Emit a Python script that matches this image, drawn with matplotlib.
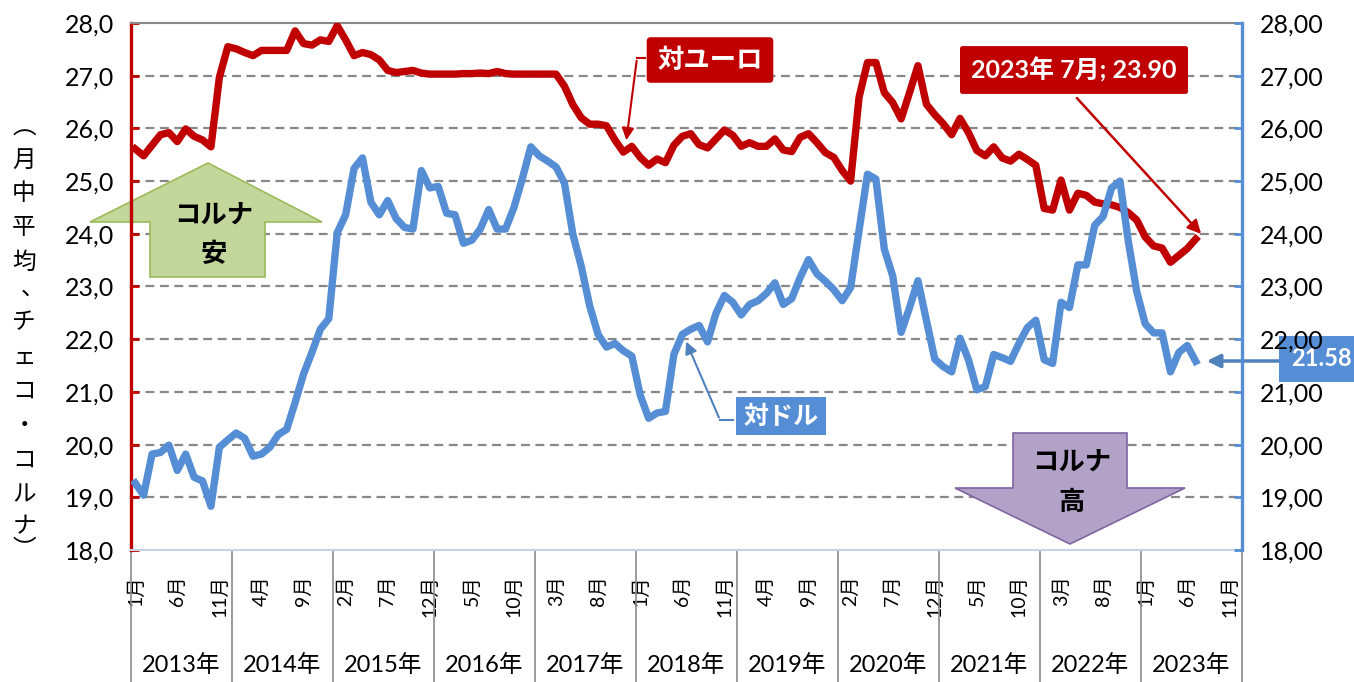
import matplotlib
matplotlib.use("Agg")
import matplotlib.pyplot as plt
from matplotlib.patches import Polygon
from matplotlib.transforms import blended_transform_factory

plt.rcParams['font.family'] = ['Lato', 'Noto Sans CJK JP']

# monthly averages, Jan 2013 .. Jul 2023
CZK_PER_EUR = [
    25.61, 25.48, 25.68, 25.88, 25.92, 25.75, 25.99, 25.85, 25.78, 25.65, 26.97, 27.55,
    27.51, 27.44, 27.38, 27.48, 27.48, 27.48, 27.48, 27.85, 27.61, 27.58, 27.68, 27.65,
    27.95, 27.68, 27.38, 27.44, 27.40, 27.30, 27.10, 27.06, 27.08, 27.10, 27.05, 27.03,
    27.03, 27.03, 27.03, 27.04, 27.04, 27.05, 27.04, 27.08, 27.04, 27.03, 27.03, 27.03,
    27.03, 27.03, 27.03, 26.80, 26.45, 26.20, 26.08, 26.08, 26.05, 25.78, 25.55, 25.66,
    25.45, 25.30, 25.42, 25.35, 25.68, 25.85, 25.90, 25.69, 25.63, 25.80, 25.97, 25.87,
    25.66, 25.73, 25.66, 25.66, 25.80, 25.59, 25.56, 25.83, 25.90, 25.73, 25.54, 25.45,
    25.20, 25.00, 26.59, 27.25, 27.25, 26.68, 26.49, 26.18, 26.68, 27.19, 26.46, 26.26,
    26.09, 25.88, 26.19, 25.92, 25.58, 25.48, 25.65, 25.44, 25.38, 25.51, 25.41, 25.30,
    24.48, 24.45, 25.02, 24.45, 24.77, 24.73, 24.60, 24.57, 24.55, 24.50, 24.40, 24.26,
    23.94, 23.77, 23.73, 23.46, 23.59, 23.72, 23.90,
]
CZK_PER_USD = [
    19.27, 19.04, 19.82, 19.85, 19.99, 19.51, 19.82, 19.38, 19.31, 18.83, 19.95, 20.09,
    20.22, 20.12, 19.78, 19.82, 19.95, 20.19, 20.29, 20.80, 21.34, 21.75, 22.19, 22.39,
    24.02, 24.36, 25.24, 25.44, 24.60, 24.36, 24.63, 24.29, 24.12, 24.09, 25.20, 24.87,
    24.90, 24.39, 24.36, 23.82, 23.88, 24.09, 24.46, 24.09, 24.09, 24.50, 25.05, 25.65,
    25.48, 25.38, 25.27, 24.96, 23.99, 23.38, 22.63, 22.09, 21.85, 21.92, 21.78, 21.68,
    20.94, 20.50, 20.60, 20.63, 21.71, 22.09, 22.19, 22.26, 21.95, 22.49, 22.83, 22.70,
    22.46, 22.66, 22.73, 22.87, 23.07, 22.66, 22.77, 23.17, 23.51, 23.24, 23.10, 22.94,
    22.73, 22.98, 24.06, 25.13, 25.04, 23.71, 23.20, 22.13, 22.60, 23.11, 22.36, 21.62,
    21.48, 21.38, 22.02, 21.61, 21.04, 21.10, 21.71, 21.65, 21.58, 21.92, 22.22, 22.36,
    21.61, 21.54, 22.70, 22.60, 23.41, 23.41, 24.16, 24.33, 24.87, 25.00, 23.85, 22.90,
    22.29, 22.12, 22.12, 21.38, 21.75, 21.88, 21.58,
]
YEARS = ["2013年", "2014年", "2015年", "2016年", "2017年", "2018年",
         "2019年", "2020年", "2021年", "2022年", "2023年"]
MONTH_TICK_LABELS = ["1月", "6月", "11月", "4月", "9月", "2月", "7月", "12月", "5月", "10月",
                     "3月", "8月", "1月", "6月", "11月", "4月", "9月", "2月", "7月", "12月",
                     "5月", "10月", "3月", "8月", "1月", "6月", "11月"]
N_MONTHS = 132  # axis runs through Dec 2023

RED = "#C00000"
BLUE = "#558ED5"
ARROW_BLUE = "#4F81BD"

W, H = 1354, 682
fig = plt.figure(figsize=(W / 100, H / 100), dpi=100)
ax = fig.add_axes([131 / W, 1 - 550 / H, (1242 - 131) / W, (550 - 23) / H])
ax.set_xlim(0, N_MONTHS)
ax.set_ylim(18, 28)


def dx(p):  # pixel x -> data x
    return (p - 131) / (1111 / N_MONTHS)


def dy(p):  # pixel y -> data y
    return 28 - (p - 23) / 52.7


for lv in range(19, 28):
    ax.axhline(lv, color="#888888", lw=1.6, ls=(0, (4, 2.5)), zorder=1)

xs = [i + 0.5 for i in range(len(CZK_PER_EUR))]
ax.plot(xs, CZK_PER_EUR, color=RED, lw=5.3, solid_joinstyle="round", zorder=3)
ax.plot(xs, CZK_PER_USD, color=BLUE, lw=5.3, solid_joinstyle="round", zorder=4)

# spines / ticks
ax.spines["left"].set_color(RED)
ax.spines["left"].set_linewidth(2.4)
ax.spines["right"].set_visible(False)
ax.spines["top"].set_color("#8a8a8a")
ax.spines["top"].set_linewidth(1.5)
ax.spines["bottom"].set_color("#c5d3e6")
ax.spines["bottom"].set_linewidth(1.5)
ax.set_yticks(range(18, 29))
ax.set_yticklabels([f"{v},0" for v in range(18, 29)], fontsize=18)
ax.tick_params(axis="y", direction="in", length=6, width=2, color=RED, pad=12)

ax2 = ax.twinx()
ax2.set_ylim(18, 28)
ax2.set_yticks(range(18, 29))
ax2.set_yticklabels([f"{v},00" for v in range(18, 29)], fontsize=18)
ax2.tick_params(axis="y", direction="in", length=6, width=2, color=BLUE, pad=13)
for s in ["left", "top", "bottom"]:
    ax2.spines[s].set_visible(False)
ax2.spines["right"].set_color(BLUE)
ax2.spines["right"].set_linewidth(2.4)

ax.set_xticks([i + 0.5 for i in range(0, N_MONTHS, 5)])
ax.set_xticklabels(MONTH_TICK_LABELS, rotation=90, fontsize=14, va="top", ha="center")
ax.tick_params(axis="x", length=0, pad=18)

# year cells under the axis
trans = blended_transform_factory(ax.transData, ax.transAxes)
for k in range(len(YEARS) + 1):
    ax.plot([12 * k, 12 * k], [0, -0.26], transform=trans, color="#8a8a8a",
            lw=1.2, clip_on=False)
for k, yr in enumerate(YEARS):
    ax.text(12 * k + 6, -0.218, yr, transform=trans, ha="center", va="center",
            fontsize=17)

# y-axis title written vertically
title_chars = ["︵", "月", "中", "平", "均", "、", "チ", "ェ", "コ", "・", "コ", "ル", "ナ", "︶"]
title_y = [128, 160, 194, 228, 262, 288, 323, 357, 391, 426, 460, 495, 527, 550]
for ch, yy in zip(title_chars, title_y):
    xx = 33 if ch == "、" else 24
    fig.text(xx / W, 1 - yy / H, ch, ha="center", va="center", fontsize=17,
             family=["Noto Sans CJK JP"])

# big arrows
green = [(208, 163), (322, 222), (265, 222), (265, 277), (150, 277), (150, 222), (90, 222)]
ax.add_patch(Polygon([(dx(a), dy(b)) for a, b in green], closed=True, fc="#C3D69B",
                     ec="#9BBB59", lw=1.2, zorder=2, clip_on=False))
ax.text(dx(214), dy(216), "コルナ", ha="center", va="center", fontsize=19,
        fontweight="bold", zorder=5)
ax.text(dx(214), dy(254), "安", ha="center", va="center", fontsize=19,
        fontweight="bold", zorder=5)

purple = [(1013, 433), (1127, 433), (1127, 488), (1185, 488), (1070, 544), (955, 488), (1013, 488)]
ax.add_patch(Polygon([(dx(a), dy(b)) for a, b in purple], closed=True, fc="#B3A2C7",
                     ec="#8064A2", lw=1.2, zorder=2))
ax.text(dx(1072), dy(463), "コルナ", ha="center", va="center", fontsize=19,
        fontweight="bold", zorder=5)
ax.text(dx(1072), dy(502), "高", ha="center", va="center", fontsize=19,
        fontweight="bold", zorder=5)

# callouts
ax.text(dx(710), dy(60), "対ユーロ", ha="center", va="center", color="white",
        fontsize=19, fontweight="bold", zorder=6,
        bbox=dict(boxstyle="round,pad=0.4,rounding_size=0.15", fc=RED, ec="none"))
ax.plot([dx(645), dx(637)], [dy(58), dy(58)], color=RED, lw=1.5, zorder=6)
ax.annotate("", xy=(dx(626), dy(143)), xytext=(dx(637), dy(58)), zorder=6,
            arrowprops=dict(arrowstyle="-|>", color=RED, lw=1.5, mutation_scale=18))

ax.text(dx(781), dy(416), "対ドル", ha="center", va="center", color="white",
        fontsize=18, fontweight="bold", zorder=6,
        bbox=dict(boxstyle="square,pad=0.3", fc=BLUE, ec="none"))
ax.plot([dx(733), dx(720)], [dy(420), dy(420)], color=ARROW_BLUE, lw=1.5, zorder=6)
ax.annotate("", xy=(dx(685), dy(339)), xytext=(dx(720), dy(420)), zorder=6,
            arrowprops=dict(arrowstyle="-|>", color=ARROW_BLUE, lw=1.5, mutation_scale=18))

ax.text(dx(1074), dy(70), f"2023年 7月; {CZK_PER_EUR[-1]:.2f}", ha="center", va="center",
        color="white", fontsize=18, fontweight="bold", zorder=6,
        bbox=dict(boxstyle="round,pad=0.45,rounding_size=0.1", fc=RED, ec="none"))
ax.annotate("", xy=(dx(1203), dy(236)), xytext=(dx(1075), dy(96)), zorder=6,
            arrowprops=dict(arrowstyle="-|>", color=RED, lw=1.8, mutation_scale=20))

ax.annotate("", xy=(dx(1204), dy(361)), xytext=(dx(1284), dy(361)), zorder=6,
            arrowprops=dict(arrowstyle="-|>", color=ARROW_BLUE, lw=2.5, mutation_scale=20))
ax.text(dx(1291), dy(359), f"{CZK_PER_USD[-1]:.2f}", ha="left", va="center",
        color="white", fontsize=17, fontweight="bold", zorder=7, clip_on=False,
        bbox=dict(boxstyle="square,pad=0.5", fc=BLUE, ec="none"))

fig.savefig("out.png", dpi=100)
